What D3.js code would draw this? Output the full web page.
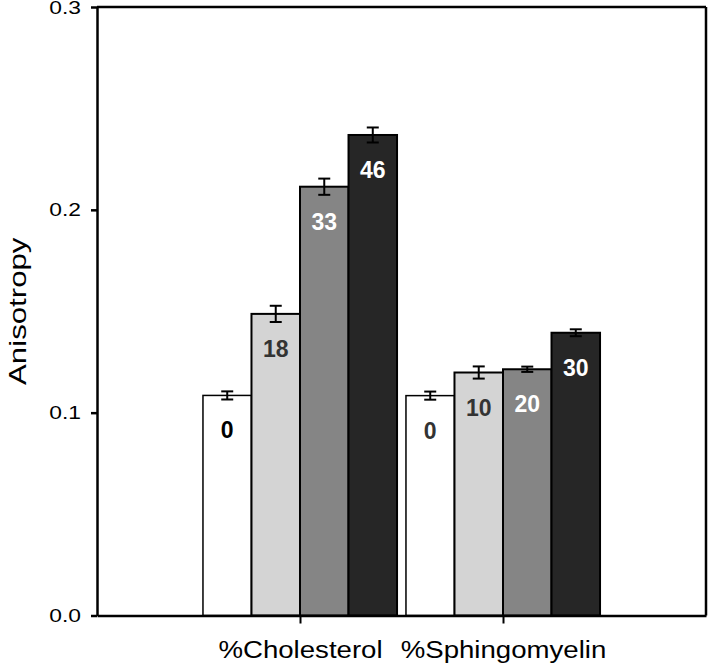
<!DOCTYPE html>
<html>
<head>
<meta charset="utf-8">
<script src="https://cdn.jsdelivr.net/npm/d3@7"></script>
<style>
  body { margin: 0; background: #fff; }
  svg { display: block; font-family: "Liberation Sans", Arial, sans-serif; }
</style>
</head>
<body>
<svg id="chart"></svg>
<script>
// values
const groups = ["%Cholesterol", "%Sphingomyelin"]
const cholLabels = ["0", "18", "33", "46"]
const cholValues = [0.1085, 0.1487, 0.2114, 0.2369]
const cholErrors = [0.002, 0.004, 0.004, 0.0037]
const sphLabels = ["0", "10", "20", "30"]
const sphValues = [0.1084, 0.1198, 0.1214, 0.1394]
const sphErrors = [0.002, 0.003, 0.0013, 0.0017]
const yTicks = [0.0, 0.1, 0.2, 0.3]

const fills = ["#ffffff", "#d4d4d4", "#858585", "#262626"]
const labelColors = [["#000000", "#333333", "#ffffff", "#ffffff"], ["#333333", "#333333", "#ffffff", "#ffffff"]]

const W = 710, H = 670
const margin = {top: 7, right: 4, bottom: 54.5, left: 97}
const width = W - margin.left - margin.right
const height = H - margin.top - margin.bottom

const svg = d3.select("#chart").attr("width", W).attr("height", H)
const plot = svg.append("g").attr("transform", "translate(" + margin.left + "," + margin.top + ")")

const x = d3.scalePoint().domain(groups).range([0, width]).padding(1)
const inner = d3.scaleBand().domain(d3.range(4)).range([-0.478 * x.step(), 0.478 * x.step()])
const y = d3.scaleLinear().domain([0, 0.3]).range([height, 0])

// widen glyphs the way the original figure renders them
function stretch(sel, k) {
	sel.each(function() {
		const n = this.getComputedTextLength()
		d3.select(this).attr("textLength", n * k).attr("lengthAdjust", "spacingAndGlyphs")
	})
}

const rows = [
	{name: groups[0], labels: cholLabels, values: cholValues, errors: cholErrors, colors: labelColors[0]},
	{name: groups[1], labels: sphLabels, values: sphValues, errors: sphErrors, colors: labelColors[1]},
]

rows.forEach(r => {
	const g = plot.append("g").attr("transform", "translate(" + x(r.name) + ",0)")
	const d = r.values.map((v, i) => ({i, v, e: r.errors[i], label: r.labels[i], color: r.colors[i]}))

	g.selectAll("rect").data(d).join("rect")
		.attr("x", d => inner(d.i))
		.attr("y", d => y(d.v))
		.attr("width", inner.bandwidth())
		.attr("height", d => height - y(d.v))
		.attr("fill", d => fills[d.i])
		.attr("stroke", "#000")
		.attr("stroke-width", d => d.i === 0 ? 1.5 : 2)

	const eb = g.selectAll("g.err").data(d).join("g").attr("class", "err")
		.attr("stroke", "#000").attr("stroke-width", 2)
	const cx = d => inner(d.i) + inner.bandwidth() / 2
	eb.append("line")
		.attr("x1", cx).attr("x2", cx)
		.attr("y1", d => y(d.v + d.e)).attr("y2", d => y(d.v - d.e))
	eb.append("line")
		.attr("x1", d => cx(d) - 6).attr("x2", d => cx(d) + 6)
		.attr("y1", d => y(d.v + d.e)).attr("y2", d => y(d.v + d.e))
	eb.append("line")
		.attr("x1", d => cx(d) - 6).attr("x2", d => cx(d) + 6)
		.attr("y1", d => y(d.v - d.e)).attr("y2", d => y(d.v - d.e))

	g.selectAll("text").data(d).join("text")
		.attr("x", cx)
		.attr("y", d => y(d.v) + 35)
		.attr("dy", "0.35em")
		.attr("text-anchor", "middle")
		.attr("font-size", 23)
		.attr("font-weight", "bold")
		.attr("fill", d => d.color)
		.text(d => d.label)
})

// frame
plot.append("line").attr("x1", 0).attr("x2", width).attr("y1", 0).attr("y2", 0)
	.attr("stroke", "#000").attr("stroke-width", 2.5)
plot.append("line").attr("x1", width).attr("x2", width).attr("y1", 0).attr("y2", height)
	.attr("stroke", "#000").attr("stroke-width", 2.5)

const yAxis = plot.append("g")
	.call(d3.axisLeft(y).tickValues(yTicks).tickFormat(d3.format(".1f")).tickSize(6).tickSizeOuter(0).tickPadding(10))
yAxis.select(".domain").attr("stroke-width", 2.5)
yAxis.selectAll(".tick line").attr("stroke-width", 2.5)
yAxis.selectAll("text").attr("font-size", 19).attr("fill", "#000").call(stretch, 1.2)

const xAxis = plot.append("g")
	.attr("transform", "translate(0," + height + ")")
	.call(d3.axisBottom(x).tickSize(8).tickSizeOuter(0).tickPadding(34))
xAxis.select(".domain").attr("stroke-width", 2.5)
xAxis.selectAll(".tick line").attr("stroke-width", 2)
xAxis.selectAll("text").attr("font-size", 23).attr("fill", "#000").attr("dy", 0).call(stretch, 1.2)

const title = svg.append("text")
	.attr("transform", "translate(26," + (margin.top + height / 2) + ") rotate(-90)")
	.attr("text-anchor", "middle")
	.attr("font-size", 24)
	.text("Anisotropy")
title.call(stretch, 1.3)
</script>
</body>
</html>
